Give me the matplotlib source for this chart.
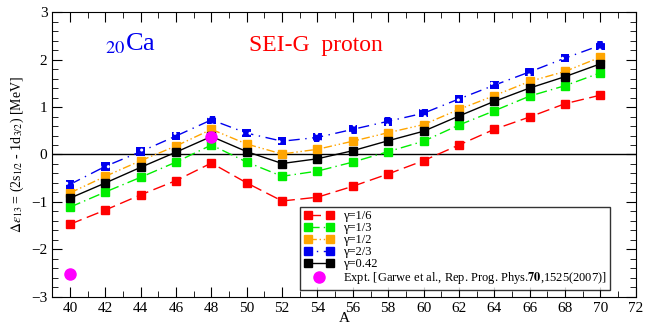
import matplotlib.pyplot as plt
from matplotlib.ticker import MultipleLocator
from matplotlib.lines import Line2D
from matplotlib.legend_handler import HandlerLine2D

plt.rcParams['font.family'] = ['Liberation Serif', 'DejaVu Serif']
plt.rcParams['mathtext.fontset'] = 'stix'
plt.rcParams['hatch.color'] = 'white'
plt.rcParams['hatch.linewidth'] = 1.0

A = [40, 42, 44, 46, 48, 50, 52, 54, 56, 58, 60, 62, 64, 66, 68, 70]
g16 = [-1.47, -1.17, -0.85, -0.55, -0.18, -0.60, -0.98, -0.90, -0.67, -0.41, -0.13, 0.20, 0.53, 0.79, 1.07, 1.25]
g13 = [-1.11, -0.79, -0.48, -0.16, 0.20, -0.16, -0.46, -0.35, -0.16, 0.06, 0.28, 0.62, 0.92, 1.23, 1.45, 1.72]
g12 = [-0.81, -0.46, -0.13, 0.18, 0.53, 0.22, 0.01, 0.11, 0.28, 0.46, 0.63, 0.95, 1.24, 1.54, 1.75, 2.05]
g23 = [-0.63, -0.25, 0.06, 0.39, 0.73, 0.45, 0.28, 0.36, 0.53, 0.70, 0.87, 1.17, 1.46, 1.74, 2.03, 2.30]
g042 = [-0.92, -0.60, -0.27, 0.05, 0.38, 0.06, -0.19, -0.09, 0.08, 0.29, 0.49, 0.81, 1.12, 1.40, 1.64, 1.91]
expt_A = [40, 48]
expt = [-2.52, 0.36]

fig = plt.figure(figsize=(6.46, 3.28), dpi=100)
ax = fig.add_axes([0.081, 0.095, 0.903, 0.868])

ax.axhline(0, color='black', lw=1.0)
ms = 6
l16, = ax.plot(A, g16, color='red', ls=(0, (9, 4)), lw=1, marker='s', ms=ms)
l13, = ax.plot(A, g13, color='#00ee00', ls=(0, (8, 3, 1, 3)), lw=1, marker='s', ms=ms)
l12, = ax.plot(A, g12, color='orange', ls=(0, (6, 2, 1, 2, 1, 2)), lw=1, marker='s', ms=ms)
ax.plot(A, g23, color='#0000ee', ls=(0, (8, 4, 1, 4)), lw=1)
ax.scatter(A, g23, marker='s', s=38, facecolor='#0000ee', edgecolor='white',
           linewidths=0, hatch='..', zorder=3)
l042, = ax.plot(A, g042, color='black', ls='-', lw=1, marker='s', ms=ms)
lexp, = ax.plot(expt_A, expt, color='magenta', ls='none', marker='o', ms=8)

ax.set_xlim(39, 72)
ax.set_ylim(-3, 3)
ax.xaxis.set_major_locator(MultipleLocator(2))
ax.xaxis.set_minor_locator(MultipleLocator(1))
ax.yaxis.set_major_locator(MultipleLocator(1))
ax.yaxis.set_minor_locator(MultipleLocator(0.2))
ax.tick_params(which='both', direction='in', top=True, right=True, labelsize=11)
ax.tick_params(which='major', length=7)
ax.tick_params(which='minor', length=4)

ax.set_xlabel('A', fontsize=11, labelpad=-2)
ax.set_ylabel(r'$\Delta\varepsilon_{13}$ = (2s$_{1/2}$ - 1d$_{3/2}$) [MeV]', fontsize=10)

ax.text(42.0, 2.19, r'$_{20}$Ca', color='#0000ee', fontsize=19)
ax.text(50.1, 2.19, 'SEI-G  proton', color='red', fontsize=17)

blue = Line2D([], [], color='#0000ee', ls=(0, (2, 4, 1, 4)), lw=1, marker='s', ms=ms)
handles = [l16, l13, l12, blue, l042, lexp]
labels = ['γ=1/6', 'γ=1/3', 'γ=1/2', 'γ=2/3', 'γ=0.42',
          r'Expt. [Garwe et al., Rep. Prog. Phys.$\mathbf{70}$,1525(2007)]']
leg = ax.legend(handles, labels, loc='lower left', bbox_to_anchor=(0.425, 0.024),
                fontsize=9, frameon=True, fancybox=False, edgecolor='black',
                handlelength=2.4, handletextpad=0.7, labelspacing=0.0, numpoints=2,
                borderpad=0.3, borderaxespad=0,
                handler_map={lexp: HandlerLine2D(numpoints=1)})
leg.get_frame().set_linewidth(1)

fig.savefig('out.png', dpi=100)
